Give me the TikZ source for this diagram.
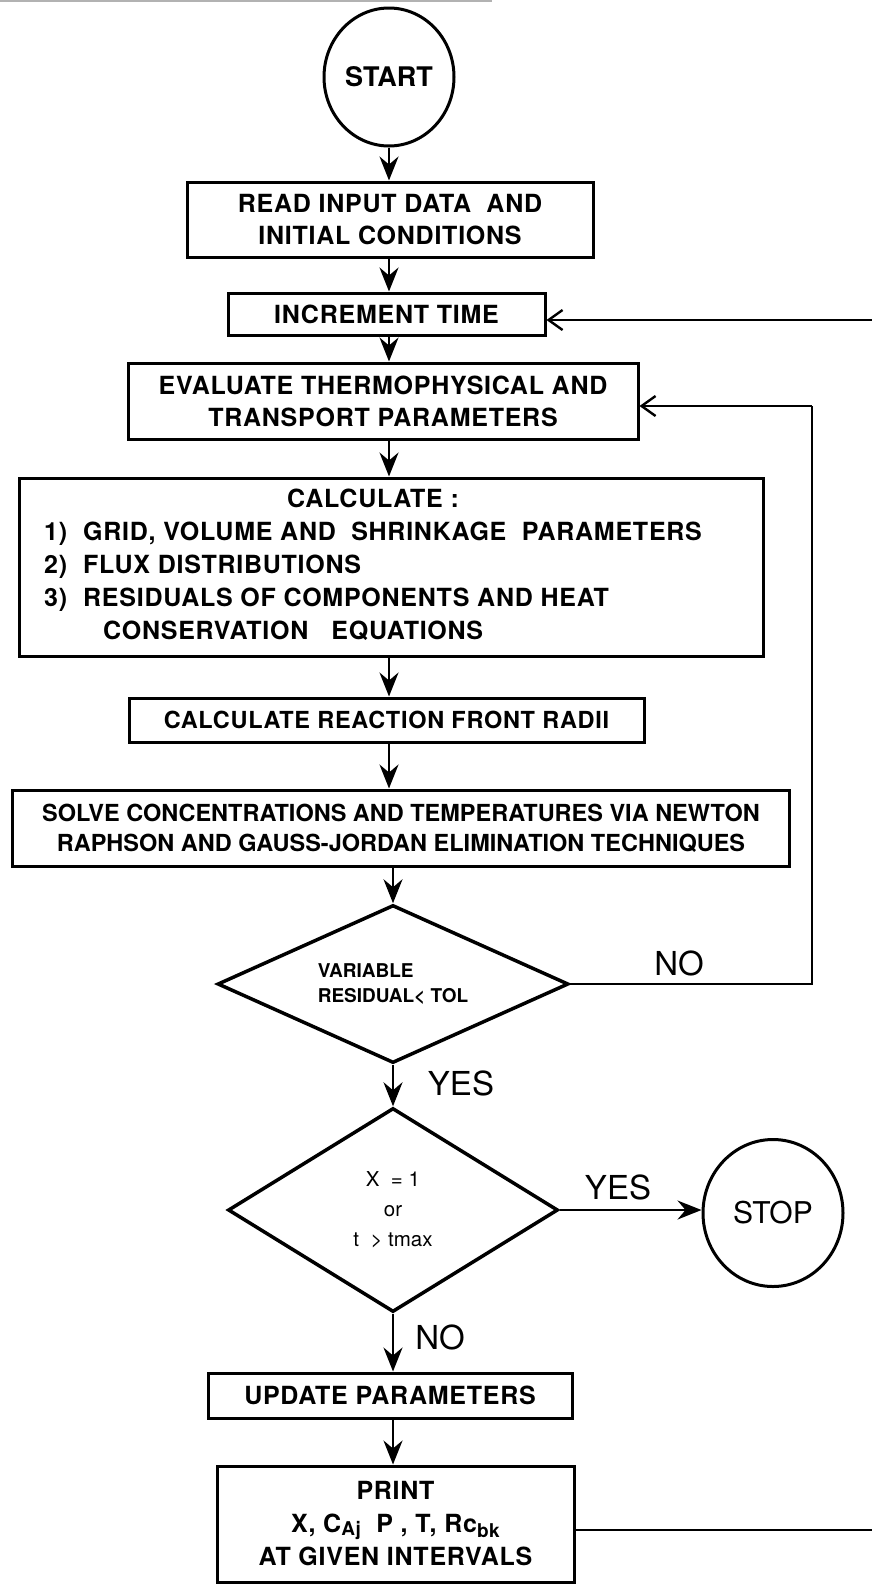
\documentclass[tikz,border=0pt]{standalone}
\usepackage{fontspec}
\setmainfont{TeX Gyre Heros}
\newfontfamily\trk{TeX Gyre Heros}[LetterSpace=3]
\usetikzlibrary{shapes.geometric,arrows.meta}
\newcommand{\bxf}{\trk\fontsize{25}{32}\selectfont\bfseries}
\newcommand{\dmf}{\fontsize{19}{25}\selectfont\bfseries}
\newcommand{\dmg}{\fontsize{20.5}{30}\selectfont}
\newcommand{\lbf}{\fontsize{33}{33}\selectfont}
\newcommand{\crf}{\fontsize{27}{27}\selectfont\bfseries}
\begin{document}
\begin{tikzpicture}[x=1pt,y=-1pt,
 box/.style={draw,line width=3pt,rectangle,inner sep=0pt,align=center,font=\bxf},
 term/.style={draw,line width=3pt,ellipse,inner sep=0pt,font=\crf},
 decis/.style={draw,line width=3.5pt,diamond,inner sep=0pt},
 lbl/.style={inner sep=0pt,font=\lbf},
 arr/.style={line width=2.2pt,-{Stealth[length=24pt,width=19pt,inset=8pt]}},
 looparr/.style={line width=2.2pt,-{Straight Barb[length=14pt,width=20pt,line width=2.4pt]}},
 link/.style={line width=2.2pt}]
\useasboundingbox (0,0) rectangle (872,1585);
\draw[gray!60, line width=2pt] (0,1) -- (492,1);

\node[term, minimum width=130pt, minimum height=138pt] (start) at (389,77) {START};
\node[box, minimum width=406pt, minimum height=75pt] (read) at (390,219.5) {READ INPUT DATA\ \ AND\\INITIAL CONDITIONS};
\node[box, minimum width=317pt, minimum height=42pt] (inc) at (386.5,314) {INCREMENT TIME};
\node[box, minimum width=510pt, minimum height=76pt] (eval) at (383,401) {EVALUATE THERMOPHYSICAL AND\\TRANSPORT PARAMETERS};
\node[box, minimum width=744pt, minimum height=178pt] (calc) at (391,567) {};
\node[inner sep=0pt, anchor=west, font=\trk\fontsize{25}{33}\selectfont\bfseries] (calctxt) at (44,567)
 {\begin{tabular}{@{}l@{\hspace{16pt}}l@{}}
  \multicolumn{2}{@{}c@{}}{CALCULATE :}\\
  1) & GRID, VOLUME AND\ \ SHRINKAGE\ \ PARAMETERS\\
  2) & FLUX DISTRIBUTIONS\\
  3) & RESIDUALS OF COMPONENTS AND HEAT\\
     & \hspace{20pt}CONSERVATION\ \ \ EQUATIONS
 \end{tabular}};
\node[box, font=\trk\fontsize{23.5}{30}\selectfont\bfseries, minimum width=515pt, minimum height=44pt] (react) at (386.5,720) {CALCULATE REACTION FRONT RADII};
\node[box, font=\fontsize{23.5}{30}\selectfont\bfseries, minimum width=777pt, minimum height=76pt] (solve) at (401,828) {SOLVE CONCENTRATIONS AND TEMPERATURES VIA NEWTON\\RAPHSON AND GAUSS-JORDAN ELIMINATION TECHNIQUES};
\node[decis, minimum width=351pt, minimum height=158pt, aspect=2.2, font=\dmf, align=left] (d1) at (393,984) {VARIABLE\\RESIDUAL< TOL};
\node[decis, minimum width=330pt, minimum height=204pt, aspect=1.6, font=\dmg, align=center] (d2) at (393,1210) {X\ \ = 1\\or\\t\ \ > tmax};
\node[term, font=\fontsize{30}{30}\selectfont, minimum width=140pt, minimum height=147pt] (stop) at (773,1213) {STOP};
\node[box, minimum width=364pt, minimum height=45pt] (upd) at (390,1395.5) {UPDATE PARAMETERS};
\node[box, font=\trk\fontsize{25}{33}\selectfont\bfseries, minimum width=357pt, minimum height=116pt] (print) at (395.5,1524)
 {PRINT\\X, C\raisebox{-3pt}{\fontsize{19}{19}\selectfont Aj}\ \ P , T, Rc\raisebox{-5pt}{\fontsize{19}{19}\selectfont bk}\\AT GIVEN INTERVALS};

\node[lbl] (no1) at (679,963) {NO};
\node[lbl] (yes1) at (461,1083) {YES};
\node[lbl] (yes2) at (618,1187) {YES};
\node[lbl] (no2) at (440,1337) {NO};

\coordinate (incR) at (872,320);
\coordinate (loopR) at (812,406);
\coordinate (prR) at (872,1530);

\draw[arr] (start.south) -- (start.south |- read.north);
\draw[arr] (read.south -| start) -- (inc.north -| start);
\draw[arr] (inc.south -| start) -- (eval.north -| start);
\draw[arr] (eval.south -| start) -- (calc.north -| start);
\draw[arr] (calc.south -| start) -- (react.north -| start);
\draw[arr] (react.south -| start) -- (solve.north -| start);
\draw[arr] (solve.south -| d1.north) -- (d1.north);
\draw[arr] (d1.south) -- (d2.north);
\draw[arr] (d2.east) -- (d2.east -| stop.west);
\draw[arr] (d2.south) -- (d2.south |- upd.north);
\draw[arr] (upd.south -| d2) -- (print.north -| d2);
\draw[link] (d1.east) -| (loopR);
\draw[looparr] (loopR) -- (loopR -| eval.east);
\draw[looparr] (incR) -- (incR -| inc.east);
\draw[link] (prR -| print.east) -- (prR);
\end{tikzpicture}
\end{document}
